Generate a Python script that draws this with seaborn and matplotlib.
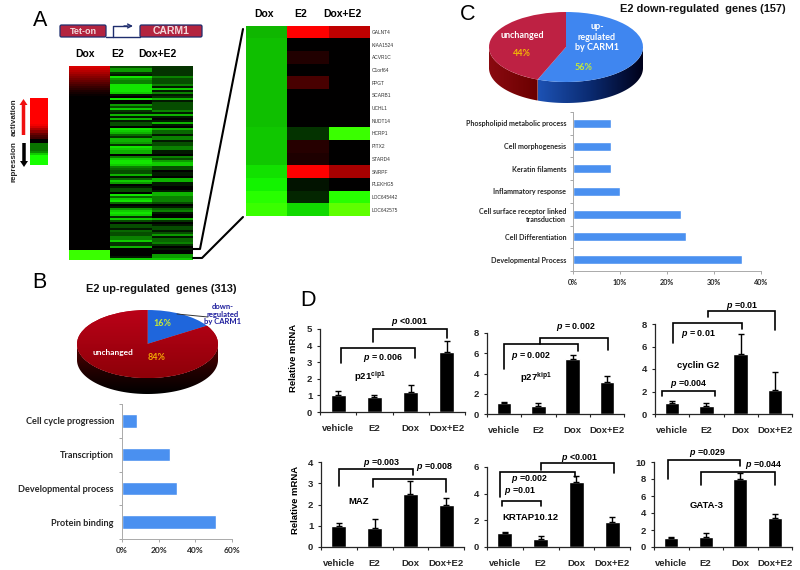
import numpy as np
import pandas as pd
import seaborn as sns
import matplotlib
matplotlib.use("Agg")
import matplotlib.pyplot as plt
from matplotlib.colors import LinearSegmentedColormap
from matplotlib.patches import Polygon, FancyBboxPatch, FancyArrow
from matplotlib.ticker import FixedLocator, NullFormatter

# ---------- data ----------
heat_columns = ["Dox", "E2", "Dox+E2"]
big_dox = [.85, .8, .72, .65, .58, .52, .46, .4, .34, .28, .22, .17, .12, .08, .04] + [0] * 77 + [-1.1] * 5
big_e2 = [3, 6, 6, 2, 1, 9, 6, 5, 5, 9, 9, 9, 9, 8, 1, 0, 9, 0, 0, 6, 3, 8, 2, 1, 7, 1, 7, 1, 3, 3, 0, 9,
          8, 7, 4, 2, 7, 7, 6, 2, 9, 8, 7, 7, 0, 5, 8, 9, 9, 8, 5, 4, 3, 3, 7, 1, 4, 8, 6, 0, 1, 3, 3, 0,
          9, 4, 8, 9, 4, 0, 1, 6, 8, 9, 8, 2, 8, 3, 0, 3, 3, 1, 4, 3, 3, 5, 5, 8, 2, 2, 7, 0, 0, 0, 0, 1, 8]
big_dox_e2 = [2, 2, 2, 2, 2, 5, 3, 3, 3, 5, 1, 8, 1, 5, 1, 2, 7, 1, 3, 3, 3, 3, 5, 1, 7, 1, 0, 1, 7, 1, 0, 7,
              4, 4, 1, 5, 5, 1, 3, 3, 5, 5, 1, 1, 0, 5, 3, 6, 8, 8, 3, 3, 0, 1, 1, 0, 7, 7, 1, 1, 0, 0, 1, 7,
              7, 5, 5, 5, 3, 0, 1, 4, 5, 1, 0, 0, 7, 2, 0, 1, 3, 3, 1, 3, 6, 1, 4, 4, 5, 2, 0, 1, 0, 0, 6, 6, 8]

gene_names = ["GALNT4", "KIAA1524", "ACVR1C", "C1orf64", "FPGT", "SCARB1", "UCHL1", "NUDT14", "HCRP1",
              "PITX2", "STARD4", "SNRPF", "PLEKHG5", "LOC645442", "LOC642575"]
zoom_dox = [-.72, -.75, -.75, -.75, -.75, -.75, -.75, -.75, -.78, -.78, -.78, -.88, -.95, -1.05, -1.1]
zoom_e2 = [1, 0, .13, 0, .28, 0, 0, 0, -.2, .15, .12, 1, -.08, -.15, -.85]
zoom_dox_e2 = [.75, 0, 0, 0, 0, 0, 0, 0, -1.1, 0, 0, .65, 0, -1.05, -1.2]

scale_values = [1] * 13 + [.95, .85, .7, .55, .4, .3, .25, 0, 0, -.45, -.45, -.45, -.45, -.55, -.8, -1, -1, -1, -1, -1]

pie_b_values = [16, 84]
pie_c_values = [56, 44]

up_terms = ["Cell cycle progression", "Transcription", "Developmental process", "Protein binding"]
up_pct = [8, 26, 30, 51]
down_terms = ["Phospholipid metabolic process", "Cell morphogenesis", "Keratin filaments", "Inflammatory response",
              "Cell surface receptor linked\ntransduction", "Cell Differentiation", "Developmental Process"]
down_pct = [8, 8, 8, 10, 23, 24, 36]

treatments = ["vehicle", "E2", "Dox", "Dox+E2"]
p21_mean, p21_err = [1, .9, 1.2, 3.6], [.25, .1, .4, .65]
p27_mean, p27_err = [1.05, .75, 5.45, 3.15], [.1, .3, .4, .65]
g2_mean, g2_err = [1, .7, 5.3, 2.1], [.2, .3, 1.8, 1.6]
maz_mean, maz_err = [1, .9, 2.5, 2.0], [.12, .4, .6, .3]
krtap_mean, krtap_err = [1.05, .6, 4.85, 1.85], [.1, .25, .5, .4]
gata_mean, gata_err = [1.05, 1.2, 8, 3.4], [.1, .45, .7, .5]

# ---------- style ----------
sns.set_theme(style="ticks")
plt.rcParams["font.family"] = ["Liberation Sans", "DejaVu Sans"]
plt.rcParams["mathtext.fontset"] = "custom"
plt.rcParams["mathtext.rm"] = "Liberation Sans:bold"
plt.rcParams["mathtext.bf"] = "Liberation Sans:bold"
plt.rcParams["mathtext.it"] = "Liberation Sans:italic:bold"

W, H = 800, 570
fig = plt.figure(figsize=(W / 100, H / 100), dpi=100, facecolor="white")


def axpx(x0, y0, x1, y1, **kw):
    return fig.add_axes([x0 / W, 1 - y1 / H, (x1 - x0) / W, (y1 - y0) / H], **kw)


over = axpx(0, 0, W, H, zorder=20)
over.set_xlim(0, W)
over.set_ylim(H, 0)
over.axis("off")
over.patch.set_alpha(0)


def label(x, y, s, size=7, color="black", weight="bold", rotation=0, family=None, **kw):
    over.text(x, y, s, fontsize=size, color=color, fontweight=weight, rotation=rotation,
              ha="center", va="center", family=family, **kw)


# ---------- heatmaps ----------
vlim = 1.3
stops = [(0, (.5, 1, 0)), ((vlim - 1.0) / (2 * vlim), (.08, 1, 0)), (.5, (0, 0, 0)),
         ((vlim + 1.0) / (2 * vlim), (1, 0, 0)), (1, (1, 0, 0))]
rg = LinearSegmentedColormap.from_list("rg", stops)

big = pd.DataFrame({"Dox": big_dox, "E2": [-v / 10 for v in big_e2], "Dox+E2": [-v / 10 for v in big_dox_e2]})
ax = axpx(69, 66, 193, 260)
sns.heatmap(big, ax=ax, cmap=rg, vmin=-vlim, vmax=vlim, cbar=False, xticklabels=False, yticklabels=False)

detail = pd.DataFrame({"Dox": zoom_dox, "E2": zoom_e2, "Dox+E2": zoom_dox_e2}, index=gene_names)
ax = axpx(246, 25.5, 370, 216)
sns.heatmap(detail, ax=ax, cmap=rg, vmin=-vlim, vmax=vlim, cbar=False, xticklabels=False, yticklabels=True)
ax.yaxis.tick_right()
ax.tick_params(axis="y", length=0, pad=1.5, labelsize=3.5, labelcolor="#333333", rotation=0)
ax.set_ylabel("")

ax = axpx(30, 98, 48, 165)
sns.heatmap(pd.DataFrame({"scale": scale_values}), ax=ax, cmap=rg, vmin=-vlim, vmax=vlim, cbar=False,
            xticklabels=False, yticklabels=False)

for x, s in zip((85, 118, 157), heat_columns):
    label(x, 54, s, size=7.5)
for x, s in zip((264, 301, 342), heat_columns):
    label(x, 14, s, size=7.5)
label(40, 20, "A", size=15.5, weight="normal")
label(39, 282, "B", size=15.5, weight="normal")
label(468, 15, "C", size=15.5, weight="normal")
label(308, 301, "D", size=15.5, weight="normal")

over.text(14.5, 117, "activation", rotation=90, fontsize=5.8, fontweight="bold", ha="center", va="center")
over.text(14.5, 162, "repression", rotation=90, fontsize=5.8, fontweight="bold", ha="center", va="center")
over.add_patch(FancyArrow(23.5, 135, 0, -36, width=3.5, head_width=8, head_length=6, length_includes_head=True,
                          color="#F01010", lw=0))
over.add_patch(FancyArrow(24, 143, 0, 24, width=3.5, head_width=8, head_length=6, length_includes_head=True,
                          color="black", lw=0))

over.plot([193, 200, 243], [249, 249, 29], color="black", lw=1.5)
over.plot([193, 202, 243], [258, 258, 217], color="black", lw=1.5)

for (x0, x1, s, size) in ((60, 106, "Tet-on", 6.5), (140, 202, "CARM1", 7.5)):
    over.add_patch(FancyBboxPatch((x0 + 1, 26), x1 - x0 - 2, 10, boxstyle="round,pad=1,rounding_size=1.5",
                                  fc="#B3243F", ec="#1F2E6E", lw=.9))
    label((x0 + x1) / 2, 31.5, s, size=size, color="#F1D9DC")
over.plot([106, 140], [36.5, 36.5], color="#1F2E6E", lw=1)
over.plot([113, 113, 127], [36.5, 26, 26], color="#1F2E6E", lw=1)
over.annotate("", xy=(133, 26), xytext=(124, 26),
              arrowprops=dict(arrowstyle="->", color="#1F2E6E", lw=1, mutation_scale=7, shrinkA=0, shrinkB=0))


# ---------- 3-D style pies ----------
def pie3d(cx, cy, rx, ry, depth, values, colors, sides):
    dy = depth / ry
    ax = axpx(cx - 1.05 * rx, cy - 1.05 * ry, cx + 1.05 * rx, cy + 1.05 * ry + depth, zorder=3)
    wedges, _ = ax.pie(values, colors=colors, startangle=90, counterclock=False, radius=1, frame=False,
                       wedgeprops=dict(lw=0))
    ax.set_aspect("auto")
    ax.set_axis_off()
    for a0, a1, grad, horizontal in sides:
        t = np.radians(np.linspace(a0, a1, 80))
        pts = np.r_[np.c_[np.cos(t), np.sin(t)], np.c_[np.cos(t[::-1]), np.sin(t[::-1]) - dy]]
        poly = Polygon(pts, closed=True, transform=ax.transData, fc="none", ec="none")
        ax.add_patch(poly)
        cmap = LinearSegmentedColormap.from_list("side", grad)
        ramp = np.linspace(0, 1, 128).reshape(1, -1) if horizontal else np.linspace(0, 1, 128).reshape(-1, 1)
        x0, x1 = np.cos(t).min(), np.cos(t).max()
        y0, y1 = -1 - dy, 0
        im = ax.imshow(ramp, cmap=cmap, extent=(x0, x1, y0, y1), origin="upper", aspect="auto", zorder=0.5)
        im.set_clip_path(poly)
    ax.set_xlim(-1.05, 1.05)
    ax.set_ylim(-1.05 - dy, 1.05)
    return ax, wedges


ax, wedges = pie3d(566, 47, 77, 35, 21, pie_c_values, ["#3F86F0", "#BE2143"],
                   [(-111.6, 0, ["#1D52B4", "#0A2A70", "#000018"], True),
                    (180, 248.4, ["#8A0A10", "#6A0000"], True)])

ax, wedges = pie3d(147.5, 344, 70.5, 34, 16, pie_b_values, ["#1F66DC", "#A8000F"],
                   [(180, 360, ["#5A0000", "#250000", "#000000"], False)])
ramp_red = LinearSegmentedColormap.from_list("topred", ["#BA0218", "#8E0008"])
im = ax.imshow(np.linspace(0, 1, 64).reshape(-1, 1), cmap=ramp_red, extent=(-1, 1, -1, 1), origin="upper",
               aspect="auto", zorder=1.5)
im.set_clip_path(wedges[1])
ax.set_xlim(-1.05, 1.05)
ax.set_ylim(-1.05 - 16 / 34, 1.05)

LAT = "Lato"
label(522, 35, "unchanged", size=6.5, color="white", family=LAT)
label(522, 53, "44%", size=6.5, color="#F2B705", family=LAT)
label(597, 37, "up-\nregulated\nby CARM1", size=6.5, color="white", family=LAT, linespacing=1.15)
label(584, 68, "56%", size=6.5, color="#C4E83A", family=LAT)
label(113, 353, "unchanged", size=6, color="white", family=LAT)
label(157, 358, "84%", size=6.5, color="#F2A705", family=LAT)
label(162, 323, "16%", size=6.5, color="#C4E83A", family=LAT)
label(223, 314, "down-\nregulated\nby CARM1", size=5.5, color="#1C1C9C", family=LAT, linespacing=1.15)
over.plot([177, 208], [314, 317], color="#333333", lw=.7)

label(161, 289, "E2 up-regulated  genes (313)", size=7.9, color="#111111")
label(703, 9, "E2 down-regulated  genes (157)", size=7.9, color="#111111")


# ---------- enrichment bars ----------
def term_bars(rect, terms, pct, xmax, step, size, xsize, pad):
    ax = axpx(*rect)
    sns.barplot(x=pct, y=terms, orient="h", color="#4A90F0", saturation=1, width=.4, ax=ax)
    ax.set_xlim(0, xmax)
    ax.set_ylim(len(terms) - .5, -.5)
    ax.set_xticks(np.arange(0, xmax + 1, step))
    ax.set_xticklabels([f"{v}%" for v in np.arange(0, xmax + 1, step)], family=LAT, fontweight="bold", fontsize=xsize)
    ax.set_yticks(range(len(terms)))
    ax.set_yticklabels(terms, family=LAT, fontweight="bold", fontsize=size, linespacing=1.2)
    ax.yaxis.set_minor_locator(FixedLocator(np.arange(-.5, len(terms))))
    ax.yaxis.set_minor_formatter(NullFormatter())
    ax.tick_params(axis="y", which="major", length=0, pad=pad)
    ax.tick_params(axis="y", which="minor", length=2, width=.6, color="#999999")
    ax.tick_params(axis="x", length=2, width=.6, color="#999999", pad=4)
    for s in ("top", "right"):
        ax.spines[s].set_visible(False)
    for s in ("left", "bottom"):
        ax.spines[s].set_color("#AAAAAA")
        ax.spines[s].set_linewidth(.7)
    return ax


term_bars((122, 404, 232, 539), up_terms, up_pct, 60, 20, 6.6, 6, 5.8)
term_bars((573, 112, 761, 271), down_terms, down_pct, 40, 10, 5.1, 5.2, 5)


# ---------- qPCR bars ----------
def qpcr(rect, mean, err, ymax, step):
    ax = axpx(*rect)
    sns.barplot(x=treatments, y=mean, color="black", saturation=1, width=.42, ax=ax, errorbar=None)
    ax.errorbar(range(4), mean, yerr=[[0] * 4, err], fmt="none", ecolor="black", elinewidth=1, capsize=2.5, capthick=1)
    ax.set_xlim(-.5, 3.5)
    ax.set_ylim(0, ymax)
    ax.set_yticks(np.arange(0, ymax + .1, step))
    ax.set_yticklabels([str(int(v)) for v in np.arange(0, ymax + .1, step)], fontweight="bold", fontsize=6.8)
    ax.set_xticks(range(4))
    ax.set_xticklabels(treatments, fontweight="bold", fontsize=6.8)
    ax.xaxis.set_minor_locator(FixedLocator(np.arange(-.5, 4)))
    ax.xaxis.set_minor_formatter(NullFormatter())
    ax.tick_params(axis="x", which="major", length=0, pad=8.5)
    ax.tick_params(axis="x", which="minor", length=2.5, width=.8)
    ax.tick_params(axis="y", length=2.5, width=.8, pad=3)
    for s in ("top", "right"):
        ax.spines[s].set_visible(False)
    for s in ("left", "bottom"):
        ax.spines[s].set_linewidth(.9)
    return ax


qpcr((320, 329, 465, 412), p21_mean, p21_err, 5, 1)
qpcr((487, 333, 624, 414), p27_mean, p27_err, 8, 2)
qpcr((655, 324, 792, 414), g2_mean, g2_err, 8, 2)
qpcr((321, 462, 464, 547), maz_mean, maz_err, 4, 1)
qpcr((487, 467, 630, 547), krtap_mean, krtap_err, 6, 2)
qpcr((654, 462, 792, 547), gata_mean, gata_err, 10, 2)

label(294, 358, "Relative mRNA", size=6.8, rotation=90)
label(296, 500, "Relative mRNA", size=6.8, rotation=90)


def bracket(x0, y0, ytop, x1, y1):
    over.plot([x0, x0, x1, x1], [y0, ytop, ytop, y1], color="black", lw=1.2, solid_joinstyle="miter")


brackets = [(341, 363, 348, 415, 358), (373, 342, 329, 447, 338),
            (504, 369, 344, 578, 351), (540, 344, 338, 608, 350),
            (673, 343, 323, 742, 329), (708, 317, 311, 775, 330), (662, 396, 391, 715, 396),
            (339, 486, 469, 413, 475), (373, 487, 479, 446, 492),
            (500, 497, 472, 575, 477), (502, 506, 501, 541, 506), (541, 470, 463, 614, 473),
            (668, 479, 460, 740, 466), (701, 485, 472, 775, 485)]
for b in brackets:
    bracket(*b)

pvals = [(383, 358, r"$\mathit{p}$ = 0.006"), (410, 322, r"$\mathit{p}$ <0.001"),
         (531, 356, r"$\mathit{p}$ = 0.002"), (576, 327, r"$\mathit{p}$ = 0.002"),
         (698, 334, r"$\mathit{p}$ = 0.01"), (742, 306, r"$\mathit{p}$ =0.01"), (689, 384, r"$\mathit{p}$ =0.004"),
         (382, 463, r"$\mathit{p}$ =0.003"), (435, 467, r"$\mathit{p}$ =0.008"),
         (530, 479, r"$\mathit{p}$ =0.002"), (520, 491, r"$\mathit{p}$ =0.01"), (580, 458, r"$\mathit{p}$ <0.001"),
         (708, 453, r"$\mathit{p}$ =0.029"), (764, 465, r"$\mathit{p}$ =0.044")]
for x, y, s in pvals:
    label(x, y, s, size=6.4)

label(370, 377, r"p21$^{\mathrm{cip1}}$", size=6.8)
label(536, 378, r"p27$^{\mathrm{kip1}}$", size=6.8)
label(698, 366, "cyclin G2", size=6.8)
label(359, 501, "MAZ", size=6.8)
label(530, 518, "KRTAP10.12", size=6.8)
label(707, 506, "GATA-3", size=6.8)

fig.savefig("out.png", dpi=100, facecolor="white")
